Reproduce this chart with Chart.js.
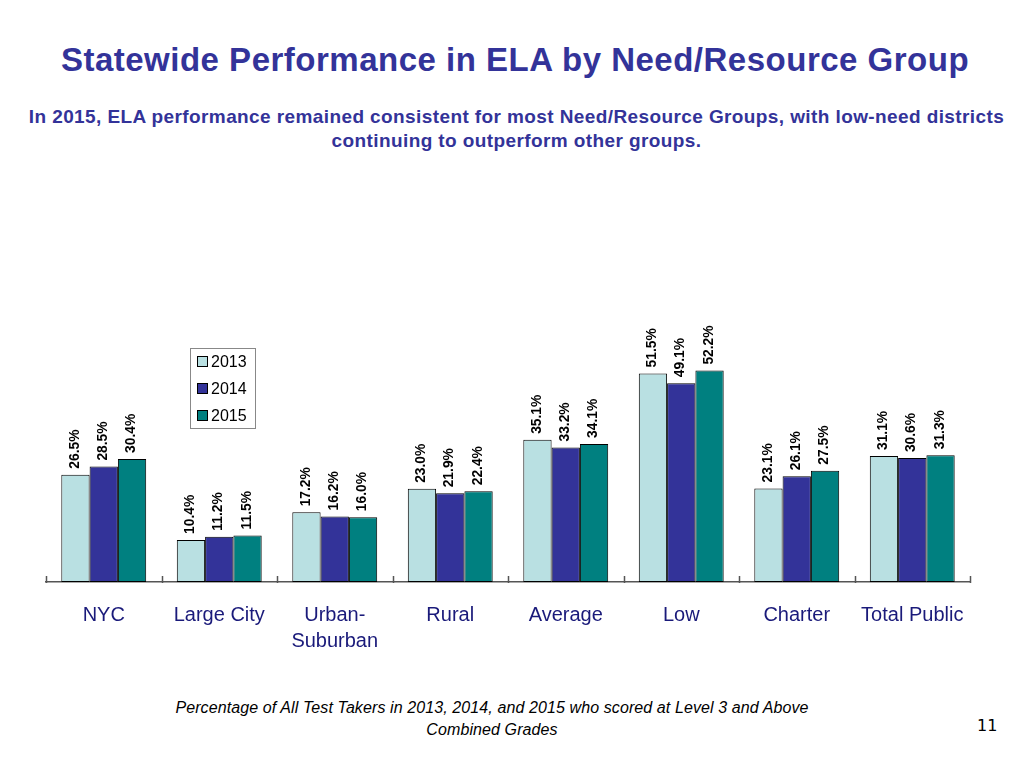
<!DOCTYPE html>
<html>
<head>
<meta charset="utf-8">
<script src="https://cdn.jsdelivr.net/npm/chart.js@4"></script>
<style>
    body { margin: 0; width: 1024px; height: 768px; background: #fff; position: relative; overflow: hidden; font-family: 'Liberation Sans', Arial, sans-serif; }
    .title { position: absolute; left: 0; width: 1030px; top: 41px; text-align: center; font-size: 33px; letter-spacing: 0.5px; font-weight: bold; color: #333399; }
    .subtitle { position: absolute; left: 0; width: 1033px; top: 105px; text-align: center; font-size: 19px; letter-spacing: 0.4px; line-height: 24px; font-weight: bold; color: #333399; }
    .note { position: absolute; left: 0; width: 984px; top: 697px; text-align: center; font-size: 16px; letter-spacing: 0.1px; line-height: 22px; font-style: italic; color: #000; }
    .page { position: absolute; left: 977px; top: 716px; font-size: 16px; font-family: 'DejaVu Sans', sans-serif; color: #000; }
    #chartWrap { position: absolute; left: 0; top: 0; width: 1024px; height: 768px; }
</style>
</head>
<body>
<div class="title">Statewide Performance in ELA by Need/Resource Group</div>
<div class="subtitle">In 2015, ELA performance remained consistent for most Need/Resource Groups, with low-need districts<br>continuing to outperform other groups.</div>
<div class="note">Percentage of All Test Takers in 2013, 2014, and 2015 who scored at Level 3 and Above<br>Combined Grades</div>
<div class="page">11</div>
<div id="chartWrap"><canvas id="elaChart" width="1024" height="768"></canvas></div>

<script>
// Categories and values (percent at Level 3 and above)
const groups = ['NYC', 'Large City', ['Urban-', 'Suburban'], 'Rural', 'Average', 'Low', 'Charter', 'Total Public'];
const years = ['2013', '2014', '2015'];
const values2013 = [26.5, 10.4, 17.2, 23.0, 35.1, 51.5, 23.1, 31.1];
const values2014 = [28.5, 11.2, 16.2, 21.9, 33.2, 49.1, 26.1, 30.6];
const values2015 = [30.4, 11.5, 16.0, 22.4, 34.1, 52.2, 27.5, 31.3];
const yearColors = ['#B9E0E2', '#333399', '#008080'];

// Vertical value labels above each bar
const barLabels = {
    id: 'barLabels',
    afterDatasetsDraw(chart) {
        const ctx = chart.ctx;
        ctx.save();
        ctx.font = 'bold 15px "Liberation Sans", Arial, sans-serif';
        ctx.fillStyle = '#000';
        ctx.textAlign = 'left';
        ctx.textBaseline = 'middle';
        chart.data.datasets.forEach((ds, i) => {
            chart.getDatasetMeta(i).data.forEach((bar, j) => {
                ctx.save();
                ctx.translate(bar.x - 1, bar.y - 6);
                ctx.rotate(-Math.PI / 2);
                ctx.scale(0.92, 1);   // slightly condensed, like the original
                ctx.fillText(ds.data[j].toFixed(1) + '%', 0, 0);
                ctx.restore();
            });
        });
        ctx.restore();
    }
};

// Short tick marks at category boundaries, pointing up from the axis
const axisTicks = {
    id: 'axisTicks',
    afterDraw(chart) {
        const ctx = chart.ctx;
        const area = chart.chartArea;
        const n = chart.data.labels.length;
        const step = (area.right - area.left) / n;
        ctx.save();
        ctx.strokeStyle = '#555';
        ctx.lineWidth = 1.5;
        ctx.beginPath();
        for (let i = 0; i <= n; i++) {
            const x = Math.round(area.left + i * step) + 0.5;
            ctx.moveTo(x, area.bottom + 1);
            ctx.lineTo(x, area.bottom - 6);
        }
        ctx.stroke();
        ctx.restore();
    }
};

// Boxed legend inside the plot area
const boxLegend = {
    id: 'boxLegend',
    afterDraw(chart) {
        const ctx = chart.ctx;
        const area = chart.chartArea;
        const left = area.left + 144;
        const top = area.top + 9;
        ctx.save();
        ctx.fillStyle = '#fff';
        ctx.strokeStyle = '#888';
        ctx.lineWidth = 1;
        ctx.fillRect(left, top, 65, 80);
        ctx.strokeRect(left + 0.5, top + 0.5, 65, 80);
        ctx.font = '16px "Liberation Sans", Arial, sans-serif';
        ctx.textBaseline = 'middle';
        chart.data.datasets.forEach((ds, i) => {
            const y = top + 14 + i * 27;
            ctx.fillStyle = ds.backgroundColor;
            ctx.fillRect(left + 7, y - 6, 11, 11);
            ctx.strokeStyle = '#000';
            ctx.strokeRect(left + 7.5, y - 5.5, 10, 10);
            ctx.fillStyle = '#000';
            ctx.fillText(ds.label, left + 21, y + 1);
        });
        ctx.restore();
    }
};

const ctx = document.getElementById('elaChart').getContext('2d');
const elaChart = new Chart(ctx, {
    type: 'bar',
    data: {
        labels: groups,
        datasets: [values2013, values2014, values2015].map((vals, i) => ({
            label: years[i],
            data: vals,
            backgroundColor: yearColors[i],
            borderColor: '#000',
            borderWidth: 1,
            borderSkipped: false,
            categoryPercentage: 0.735,
            barPercentage: 1.0
        }))
    },
    options: {
        responsive: false,
        animation: false,
        devicePixelRatio: 1,
        layout: {
            padding: { left: 46, right: 54, top: 339, bottom: 86 }
        },
        scales: {
            y: {
                display: false,
                min: 0,
                max: 60
            },
            x: {
                grid: { display: false },
                border: { display: true, color: '#555', width: 1.5 },
                ticks: {
                    color: '#1a1a7a',
                    padding: 12,
                    font: { family: '"Liberation Sans", Arial, sans-serif', size: 20, lineHeight: 1.3 }
                },
                afterFit(scale) { scale.height = 100; }
            }
        },
        plugins: {
            legend: { display: false },
            tooltip: { enabled: false }
        }
    },
    plugins: [barLabels, axisTicks, boxLegend]
});
</script>
</body>
</html>
